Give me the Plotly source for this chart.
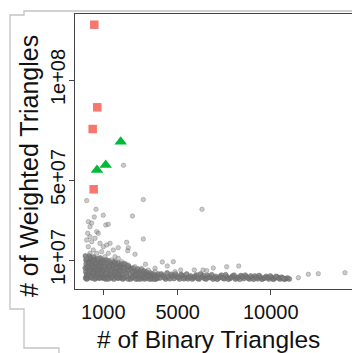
import plotly.graph_objects as go

# ---------------- data ----------------
# highlighted groups
red_x = [516, 677, 430, 484]
red_y = [1.2765e8, 8.635e7, 7.55e7, 4.535e7]

green_x = [1935, 1129, 661]
green_y = [6.915e7, 5.75e7, 5.5e7]

# isolated gray points above the dense band
gray_sparse_x = [108, 3151, 2086, 608, 1000, 516, 2570, 194, 376, 285, 1129, 1269, 645,
                 2258, 3151, 1806, 2344, 2312, 2704, 3269, 3780, 4172, 6306, 4763, 4441,
                 7634, 8280, 6914, 5892, 6360, 6559, 5161, 4855, 10677, 10285, 11484,
                 12022, 12559, 13995]
gray_sparse_y = [3.97e7, 4.02e7, 5.735e7, 3.535e7, 3.24e7, 3.15e7, 3.2e7, 2.915e7, 2.85e7,
                 2.665e7, 2.75e7, 2.785e7, 2.415e7, 1.885e7, 2.05e7, 1.615e7, 1.615e7,
                 1.465e7, 1.285e7, 7.9e6, 5.85e6, 9.0e6, 3.535e7, 9.15e6, 7.0e6, 6.65e6,
                 7.0e6, 6.0e6, 5.0e6, 5.0e6, 4.65e6, 5.0e6, 4.15e6, 8.5e5, 2.0e6, 1.15e6,
                 2.85e6, 3.15e6, 3.65e6]

# cluster just above the band at small x
gray_cluster_x = [161, 285, 108, 376, 554, 731, 823, 1000, 1183, 1360, 194, 462, 645, 914,
                  1269, 1538, 1629, 1806, 1091, 1452, 1989, 2167, 731, 285, 108, 2344,
                  2704, 3065, 3419, 3780]
gray_cluster_y = [2.335e7, 2.165e7, 2.0e7, 1.915e7, 2.085e7, 2.335e7, 1.835e7, 1.665e7,
                  1.75e7, 1.835e7, 1.665e7, 1.5e7, 1.335e7, 1.415e7, 1.335e7, 1.5e7,
                  1.165e7, 1.085e7, 1.165e7, 1.0e7, 9.15e6, 8.35e6, 1.085e7, 1.335e7,
                  1.085e7, 7.5e6, 6.65e6, 5.85e6, 5.0e6, 4.15e6]

# dense band, x < 1000
band_a_x = [50, 60, 80, 40, 100, 120, 150, 130, 180, 200, 220, 250, 260, 300, 320, 350, 380,
            400, 420, 450, 480, 500, 520, 560, 580, 600, 630, 650, 680, 700, 730, 760, 780,
            800, 830, 860, 880, 900, 930, 960, 990, 1000,
            30, 70, 110, 170, 210, 240, 280, 310, 340, 370, 410, 440, 470, 510, 540, 570,
            610, 640, 670, 710, 740, 770, 810, 840, 870, 910, 940, 970]
band_a_y = [1.0e6, 4.0e6, 8.0e6, 1.2e7, 2.0e6, 6.0e6, 1.0e7, 3.0e6, 1.0e6, 5.0e6, 9.0e6,
            1.2e7, 2.0e6, 7.0e6, 4.0e6, 1.0e7, 1.0e6, 6.0e6, 3.0e6, 9.0e6, 1.15e7, 2.0e6,
            5.0e6, 8.0e6, 1.0e6, 4.0e6, 1.05e7, 7.0e6, 2.5e6, 5.5e6, 9.0e6, 1.0e6, 4.0e6,
            7.5e6, 1.1e7, 3.0e6, 6.0e6, 1.5e6, 8.5e6, 4.5e6, 1.0e7, 2.0e6,
            6.0e6, 1.0e7, 5.0e5, 7.0e6, 2.5e6, 8.5e6, 4.5e6, 1.1e7, 1.5e6, 8.0e6, 9.5e6,
            3.5e6, 6.5e6, 1.0e7, 5.0e5, 6.0e6, 8.5e6, 2.0e6, 5.0e6, 1.0e7, 3.0e6, 6.5e6,
            1.0e6, 5.0e6, 9.0e6, 3.5e6, 6.0e6, 1.0e6]

# dense band, 1000 - 2000
band_b_x = [1030, 1060, 1090, 1120, 1150, 1180, 1210, 1240, 1270, 1300, 1330, 1360, 1390,
            1420, 1450, 1480, 1510, 1540, 1570, 1600, 1630, 1660, 1690, 1720, 1750, 1780,
            1810, 1840, 1870, 1900, 1930, 1960, 1990,
            1010, 1070, 1130, 1200, 1260, 1320, 1400, 1470, 1530, 1620, 1700, 1760, 1850,
            1920, 1980]
band_b_y = [5.0e6, 1.0e6, 8.0e6, 3.0e6, 1.0e7, 5.5e6, 1.5e6, 7.0e6, 4.0e6, 9.5e6, 2.0e6,
            6.0e6, 8.5e6, 1.0e6, 4.5e6, 7.5e6, 3.0e6, 9.0e6, 5.0e5, 5.5e6, 2.5e6, 8.0e6,
            4.0e6, 1.5e6, 6.5e6, 3.5e6, 8.5e6, 1.0e6, 5.0e6, 7.0e6, 2.5e6, 6.0e6, 1.0e6,
            9.0e6, 6.5e6, 5.0e5, 3.5e6, 5.0e5, 7.0e6, 3.0e6, 1.5e6, 6.0e6, 9.0e6, 6.0e6,
            1.0e6, 3.0e6, 4.5e6, 8.0e6]

# dense band, 2000 - 4000
band_c_x = [2030, 2080, 2120, 2170, 2210, 2260, 2300, 2350, 2390, 2440, 2480, 2530, 2570,
            2620, 2660, 2710, 2750, 2800, 2850, 2890, 2940, 2990, 3040, 3080, 3130, 3180,
            3220, 3270, 3320, 3370, 3420, 3470, 3520, 3570, 3620, 3670, 3720, 3780, 3830,
            3890, 3950,
            2050, 2100, 2230, 2330, 2460, 2590, 2730, 2870, 3000, 3150, 3300, 3450, 3600,
            3750, 3920]
band_c_y = [3.0e6, 6.0e6, 1.0e6, 4.5e6, 7.5e6, 2.0e6, 5.0e6, 5.0e5, 6.5e6, 3.0e6, 5.5e6,
            1.0e6, 4.0e6, 6.0e6, 2.0e6, 4.5e6, 5.0e5, 3.5e6, 5.5e6, 1.5e6, 4.0e6, 2.5e6,
            5.0e6, 1.0e6, 3.0e6, 4.5e6, 5.0e5, 2.5e6, 4.0e6, 1.5e6, 3.0e6, 5.0e5, 3.5e6,
            2.0e6, 1.0e6, 3.0e6, 1.5e6, 2.5e6, 5.0e5, 2.0e6, 3.0e6,
            5.0e5, 8.0e6, 3.5e6, 7.0e6, 5.0e5, 1.5e6, 2.5e6, 5.0e5, 5.0e5, 1.5e6, 1.0e6,
            2.0e6, 5.0e5, 5.0e5, 1.0e6]

# dense band, 4000 - 11000
band_d_x = [4050, 4200, 4350, 4500, 4650, 4800, 4950, 5100, 5250, 5400, 5550, 5700, 5850,
            6000, 6150, 6300, 6450, 6600, 6750, 6900, 7050, 7200, 7350, 7500, 7650, 7800,
            7950, 8100, 8250, 8400, 8550, 8700, 8850, 9000, 9150, 9300, 9450, 9600, 9750,
            9900, 10050, 10200, 10350, 10500, 10650, 10800,
            4120, 4280, 4430, 4580, 4730, 4880, 5030, 5180, 5330, 5480, 5630, 5780, 5930,
            6080, 6230, 6380, 6530, 6680, 6830, 6980, 7130, 7280, 7430, 7580, 7730, 7880,
            8030, 8180, 8330, 8480, 8630, 8780, 8930, 9080, 9230, 9380, 9530, 9680, 9830,
            9980, 10130, 10280, 10430, 10580, 10730, 10900, 11000]
band_d_y = [1.0e6, 2.2e6, 5.0e5, 1.5e6, 2.8e6, 8.0e5, 1.8e6, 5.0e5, 2.2e6, 1.2e6, 6.0e5,
            2.0e6, 1.0e6, 2.5e6, 5.0e5, 1.5e6, 8.0e5, 2.2e6, 1.2e6, 5.0e5, 1.8e6, 1.0e6,
            2.4e6, 6.0e5, 1.5e6, 8.0e5, 2.0e6, 5.0e5, 1.4e6, 2.2e6, 7.0e5, 1.6e6, 5.0e5,
            1.2e6, 2.0e6, 6.0e5, 1.4e6, 8.0e5, 1.8e6, 5.0e5, 1.2e6, 7.0e5, 1.5e6, 5.0e5,
            1.0e6, 6.0e5,
            3.0e6, 1.2e6, 3.5e6, 6.0e5, 2.0e6, 3.0e6, 1.2e6, 2.8e6, 6.0e5, 3.0e6, 1.4e6,
            5.0e5, 1.8e6, 8.0e5, 3.0e6, 2.2e6, 5.0e5, 1.4e6, 2.6e6, 1.0e6, 4.0e5, 1.6e6,
            1.0e6, 2.6e6, 4.0e5, 1.2e6, 2.4e6, 1.0e6, 4.0e5, 1.6e6, 2.4e6, 1.0e6, 2.0e6,
            4.0e5, 1.2e6, 2.2e6, 4.0e5, 1.0e6, 1.2e6, 2.0e6, 4.0e5, 1.6e6, 1.0e6, 1.4e6,
            4.0e5, 1.0e6, 5.0e5]

x_tick_vals = [1000, 5000, 10000]
x_tick_text = ["1000", "5000", "10000"]
y_tick_vals = [1e7, 5e7, 1e8]
y_tick_text = ["1e+07", "5e+07", "1e+08"]

x_title = "# of Binary Triangles"
y_title = "# of Weighted Triangles"

# ---------------- figure ----------------
W, H = 352, 353
ML, MT, MB, MR = 75, 14, 64, 0
PW, PH = W - ML - MR, H - MT - MB

def px(xp):
    return (xp - ML) / PW

def py(yp):
    return (H - MB - yp) / PH

FONT = "Liberation Sans, Arial, Helvetica, sans-serif"

gray_sparse_all_x = gray_sparse_x + gray_cluster_x
gray_sparse_all_y = gray_sparse_y + gray_cluster_y
band_x = band_a_x + band_b_x + band_c_x + band_d_x
band_y = band_a_y + band_b_y + band_c_y + band_d_y

fig = go.Figure()
fig.add_trace(go.Scatter(
    x=band_x, y=band_y, mode="markers",
    marker=dict(symbol="circle", size=5, color="rgba(118,118,118,0.8)",
                line=dict(width=0.6, color="rgba(105,105,105,0.8)")),
    hoverinfo="skip", showlegend=False))
fig.add_trace(go.Scatter(
    x=gray_sparse_all_x, y=gray_sparse_all_y, mode="markers",
    marker=dict(symbol="circle", size=4.5, color="rgba(140,140,140,0.45)",
                line=dict(width=0.6, color="rgba(100,100,100,0.55)")),
    hoverinfo="skip", showlegend=False))
fig.add_trace(go.Scatter(
    x=red_x, y=red_y, mode="markers",
    marker=dict(symbol="square", size=8.5, color="#F8766D", line=dict(width=0)),
    showlegend=False))
fig.add_trace(go.Scatter(
    x=green_x, y=green_y, mode="markers",
    marker=dict(symbol="triangle-up", size=11, color="#00BA38", line=dict(width=0)),
    showlegend=False))

axis_common = dict(showgrid=False, zeroline=False, showline=True, linecolor="#444444",
                   linewidth=1, ticks="outside", ticklen=5, tickcolor="#444444",
                   automargin=False,
                   tickfont=dict(family=FONT, size=20, color="#111111"))

fig.update_xaxes(range=[-521, 14371], tickmode="array", tickvals=x_tick_vals,
                 ticktext=x_tick_text, mirror=True, **axis_common)
fig.update_yaxes(range=[-4.5e6, 1.33e8], tickmode="array", tickvals=y_tick_vals,
                 ticktext=y_tick_text, tickangle=-90, ticklabelstandoff=-4, **axis_common)

# outer page frame (light gray edges)
frame = [(352, 11), (24, 11), (24, 15), (10, 15), (10, 309), (24, 309), (24, 348),
         (59, 348), (59, 353)]
path = "M " + " L ".join(f"{px(a):.4f},{py(b):.4f}" for a, b in frame)
fig.add_shape(type="path", path=path, xref="paper", yref="paper",
              line=dict(color="#c4c4c4", width=1.3), layer="below")

fig.add_annotation(text=x_title, xref="paper", yref="paper", x=px(208), y=py(339),
                   xanchor="center", yanchor="middle", showarrow=False,
                   font=dict(family=FONT, size=24.5, color="#111111"))
fig.add_annotation(text=y_title, xref="paper", yref="paper", x=px(29), y=py(166),
                   xanchor="center", yanchor="middle", textangle=-90, showarrow=False,
                   font=dict(family=FONT, size=25, color="#111111"))

fig.update_layout(width=W, height=H, margin=dict(l=ML, r=MR, t=MT, b=MB, pad=0),
                  paper_bgcolor="white", plot_bgcolor="white")

fig.write_html("out.html", config={"displayModeBar": False},
               post_script="document.body.style.margin='0px';document.body.style.overflow='hidden';")
